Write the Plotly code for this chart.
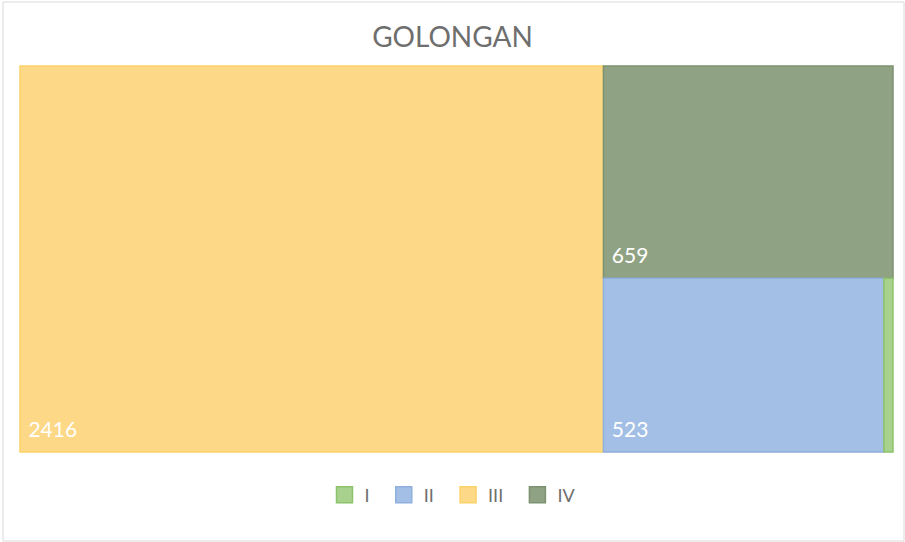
import plotly.graph_objects as go

categories = ["I", "II", "III", "IV"]
values = [17, 523, 2416, 659]
fill_colors = ["#A9D18E", "#A3BFE5", "#FDD887", "#8FA283"]
edge_colors = ["#8CC36A", "#8FB0DD", "#FCD26A", "#7C9270"]
show_label = [False, True, True, True]

label_tpl = "<span style='font-size:21px'>&nbsp;%{value}</span><br>&nbsp;"

fig = go.Figure()
fig.add_trace(go.Treemap(
    labels=categories,
    parents=[""] * len(categories),
    values=values,
    sort=True,
    texttemplate=[label_tpl if s else "" for s in show_label],
    textposition="bottom left",
    textfont=dict(color="white", size=8, family="Lato"),
    marker=dict(colors=fill_colors, line=dict(color=edge_colors, width=1.5),
                pad=dict(t=0, l=0, r=0, b=0)),
    tiling=dict(packing="squarify", pad=0),
    pathbar=dict(visible=False),
    hoverinfo="label+value",
    domain=dict(x=[0, 1], y=[0, 1]),
))

# legend entries
for c, fc, ec in zip(categories, fill_colors, edge_colors):
    fig.add_trace(go.Scatter(
        x=[None], y=[None], mode="markers", name=c + "\u00a0\u00a0",
        marker=dict(symbol="square", size=20, color=fc, line=dict(color=ec, width=1.5)),
        showlegend=True,
    ))

fig.update_layout(
    width=905, height=542,
    margin=dict(l=20, r=12, t=66, b=90, autoexpand=False),
    paper_bgcolor="white", plot_bgcolor="white",
    title=dict(text="GOLONGAN", x=0.5, xanchor="center", y=1 - 37 / 542, yanchor="middle",
               font=dict(size=28, color="#6E6E6E", family="Lato")),
    xaxis=dict(visible=False), yaxis=dict(visible=False),
    legend=dict(orientation="h", x=0.5, xanchor="center", y=-43 / 386, yanchor="middle",
                font=dict(size=18, color="#6E6E6E", family="Lato"),
                itemwidth=30, traceorder="normal"),
    shapes=[dict(type="rect", xref="paper", yref="paper",
                 x0=-17 / 873, x1=1 + 11 / 873, y0=-89 / 386, y1=1 + 64 / 386,
                 line=dict(color="#D9D9D9", width=1), fillcolor="rgba(0,0,0,0)", layer="below")],
)

fig.write_html("out.html", config={"displayModeBar": False},
               post_script="document.body.style.margin='0';")
